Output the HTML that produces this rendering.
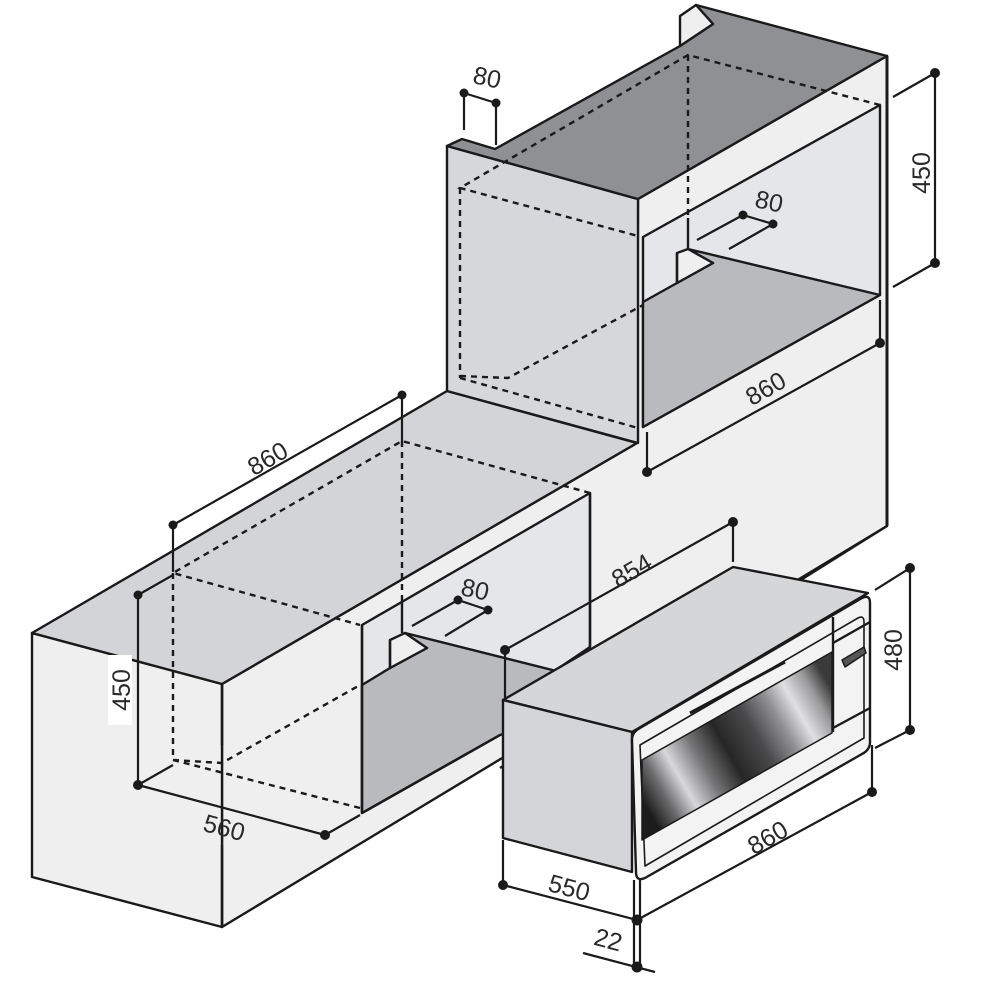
<!DOCTYPE html>
<html><head><meta charset="utf-8"><style>
html,body{margin:0;padding:0;background:#fff;}
svg{display:block;}
text{font-family:"Liberation Sans",sans-serif;font-size:25px;fill:#2a2a2a;}
</style></head><body>
<svg width="1000" height="1000" viewBox="0 0 1000 1000" xmlns="http://www.w3.org/2000/svg">
<defs>
<linearGradient id="glass" gradientUnits="userSpaceOnUse" x1="642" y1="800" x2="832" y2="690">
<stop offset="0" stop-color="#1c1c1c"/>
<stop offset="0.1" stop-color="#6a6a6c"/>
<stop offset="0.2" stop-color="#d8d8da"/>
<stop offset="0.32" stop-color="#777779"/>
<stop offset="0.45" stop-color="#262626"/>
<stop offset="0.6" stop-color="#4a4a4c"/>
<stop offset="0.72" stop-color="#8e8e90"/>
<stop offset="0.82" stop-color="#e0e0e2"/>
<stop offset="0.92" stop-color="#9a9a9c"/>
<stop offset="1" stop-color="#3a3a3a"/>
</linearGradient>
<linearGradient id="glassv" gradientUnits="userSpaceOnUse" x1="0" y1="0" x2="0" y2="1">
</linearGradient>
</defs>
<g stroke="#1a1a1a" stroke-width="2.4" stroke-linejoin="round" fill="none">
<!-- front plane -->
<polygon points="222,684 637,443 638,199 887,56 887,526 222,927" fill="#efefef"/>
<!-- base left end -->
<polygon points="32,633 222,684 222,927 32,877" fill="#efefef"/>
<!-- base top -->
<polygon points="32,633 447,391 637,443 222,684" fill="#d3d4d7"/>
<!-- tall column left face -->
<polygon points="447,146 638,199 638,443 447,391" fill="#d6d7da"/>
<!-- tall top -->
<polygon points="447,146 462,139 495,149 680,46 713,24 696,5 887,56 638,199" fill="#8f9093"/>
<polygon points="680,16 696,5 713,24 680,46" fill="#efefef"/>
<!-- upper opening -->
<polygon points="643,237 880,105 880,295 643,427" fill="#e5e6e9"/>
<polygon points="643,302 677,283 713,263 688,249 880,295 643,427" fill="#b9babd"/>
<polygon points="677,253 688,249 713,263 677,283" fill="#efefef"/>
<line x1="677" y1="253" x2="677" y2="283"/>
<line x1="688" y1="218" x2="688" y2="249"/>
<!-- base niche -->
<polygon points="362,625 590,493 590,647 553,672 500,700 500,735 362,813" fill="#e5e6e9"/>
<polygon points="362,685 390,668 427,648 392,640 405,633 600,682 600,700 500,735 362,813" fill="#b9babd"/>
<polygon points="390,640 405,633 427,648 390,668" fill="#efefef"/>
<line x1="390" y1="640" x2="390" y2="668"/>
<line x1="402" y1="600" x2="402" y2="633"/>
<line x1="362" y1="625" x2="362" y2="813"/>
<line x1="362" y1="813" x2="500" y2="735"/>
<line x1="590" y1="493" x2="590" y2="647"/>
<line x1="222" y1="684" x2="222" y2="745"/>
<line x1="222" y1="845" x2="222" y2="927"/>
<!-- front bottom line right part -->
<line x1="500" y1="768" x2="887" y2="526"/>
<line x1="887" y1="56" x2="887" y2="526" stroke-width="3"/>
</g>
<!-- dashed hidden lines -->
<g stroke="#1a1a1a" stroke-width="2.4" stroke-dasharray="6,5" fill="none">
<polyline points="880,105 688,55 460,188 638,236"/>
<line x1="688" y1="55" x2="688" y2="218"/>
<line x1="460" y1="188" x2="460" y2="378"/>
<line x1="460" y1="378" x2="638" y2="428"/>
<polyline points="460,376 508,378 643,305"/>
<polyline points="590,493 402,441 173,573 360,625"/>
<line x1="402" y1="441" x2="402" y2="600"/>
<line x1="173" y1="573" x2="173" y2="760"/>
<line x1="173" y1="760" x2="360" y2="808"/>
<polyline points="173,760 222,763 360,685"/>
</g>
<!-- oven -->
<g stroke="#1a1a1a" stroke-width="2.4" stroke-linejoin="round">
<polygon points="503,700 733,567 868,593 632,732" fill="#d5d6d8"/>
<polygon points="503,700 632,732 632,872 503,838" fill="#d4d5d8"/>
<path d="M632,740 Q632,732 640,728 L862,598 Q870,594 870,603 L870,742 Q870,750 862,754 L645,878 Q636,882 636,872 Z" fill="#f3f3f3"/>
<path d="M640,745 L858,618 Q864,615 864,622 L864,738 L645,866 Z" fill="none" stroke-width="1.6"/>
<polygon points="642,760 832,652 832,733 642,840" fill="url(#glass)" stroke-width="1.5"/>
<line x1="833" y1="617" x2="833" y2="732"/>
<line x1="833" y1="643" x2="870" y2="622"/>
<line x1="833" y1="728" x2="870" y2="708"/>
<line x1="690" y1="713" x2="785" y2="662" stroke-width="3"/>
<polygon points="842,660 864,647 866,653 845,667" fill="#555" stroke-width="1.5"/>
</g>
<!-- dimension lines -->
<g stroke="#1a1a1a" stroke-width="2.2" fill="none">
<line x1="464" y1="130" x2="464" y2="93"/><line x1="496" y1="145" x2="496" y2="103"/><line x1="464" y1="93" x2="496" y2="103"/>
<line x1="893" y1="97" x2="935" y2="73"/><line x1="893" y1="287" x2="935" y2="263"/><line x1="935" y1="73" x2="935" y2="263"/>
<line x1="697" y1="240" x2="743" y2="215"/><line x1="729" y1="249" x2="773" y2="224"/><line x1="743" y1="215" x2="773" y2="224"/>
<line x1="880" y1="300" x2="880" y2="343"/><line x1="647" y1="432" x2="647" y2="472"/><line x1="880" y1="343" x2="647" y2="472"/>
<line x1="173" y1="525" x2="173" y2="572"/><line x1="402" y1="395" x2="402" y2="441"/><line x1="173" y1="525" x2="402" y2="395"/>
<line x1="138" y1="595" x2="173" y2="575"/><line x1="138" y1="595" x2="138" y2="785"/><line x1="138" y1="785" x2="173" y2="765"/>
<line x1="138" y1="785" x2="325" y2="835"/><line x1="325" y1="835" x2="360" y2="815"/>
<line x1="412" y1="626" x2="458" y2="600"/><line x1="445" y1="636" x2="488" y2="610"/><line x1="458" y1="600" x2="488" y2="610"/>
<line x1="505" y1="650" x2="505" y2="700"/><line x1="505" y1="650" x2="733" y2="522"/><line x1="733" y1="522" x2="733" y2="562"/>
<line x1="875" y1="590" x2="910" y2="568"/><line x1="910" y1="568" x2="910" y2="730"/><line x1="875" y1="748" x2="910" y2="730"/>
<line x1="872" y1="745" x2="872" y2="792"/><line x1="872" y1="792" x2="637" y2="920"/>
<line x1="503" y1="840" x2="503" y2="885"/><line x1="503" y1="885" x2="637" y2="920"/>
<line x1="634" y1="880" x2="634" y2="968"/><line x1="640" y1="880" x2="640" y2="968"/>
<line x1="583" y1="953" x2="655" y2="972"/>
</g>
<g fill="#1a1a1a">
<circle cx="464" cy="93" r="4.5"/><circle cx="496" cy="103" r="4.5"/>
<circle cx="935" cy="73" r="5"/><circle cx="935" cy="263" r="5"/>
<circle cx="743" cy="215" r="4.5"/><circle cx="773" cy="224" r="4.5"/>
<circle cx="880" cy="343" r="5"/><circle cx="647" cy="472" r="5"/>
<circle cx="173" cy="525" r="4.5"/><circle cx="402" cy="395" r="4.5"/>
<circle cx="138" cy="595" r="4.5"/><circle cx="138" cy="785" r="5"/><circle cx="325" cy="835" r="5"/>
<circle cx="458" cy="600" r="4.5"/><circle cx="488" cy="610" r="4.5"/>
<circle cx="505" cy="650" r="5"/><circle cx="733" cy="522" r="5"/>
<circle cx="910" cy="568" r="5"/><circle cx="910" cy="730" r="5"/>
<circle cx="872" cy="792" r="5"/><circle cx="503" cy="885" r="5"/>
<circle cx="637" cy="920" r="5.5"/><circle cx="637" cy="967" r="5.5"/>
</g>
<!-- labels -->
<text x="487" y="86" text-anchor="middle" transform="rotate(12 487 78)">80</text>
<text x="0" y="0" text-anchor="middle" transform="translate(930,173) rotate(-90)">450</text>
<text x="769" y="210" text-anchor="middle" transform="rotate(12 769 202)">80</text>
<text x="0" y="0" text-anchor="middle" transform="translate(770,396) rotate(-30)">860</text>
<text x="0" y="0" text-anchor="middle" transform="translate(272,466) rotate(-30)">860</text>
<rect x="108" y="655" width="24" height="70" fill="#fff"/>
<text x="0" y="0" text-anchor="middle" transform="translate(130,690) rotate(-90)">450</text>
<text x="0" y="0" text-anchor="middle" transform="translate(222,836) rotate(15)">560</text>
<text x="475" y="598" text-anchor="middle" transform="rotate(12 475 590)">80</text>
<text x="0" y="0" text-anchor="middle" transform="translate(636,578) rotate(-30)">854</text>
<text x="0" y="0" text-anchor="middle" transform="translate(902,650) rotate(-90)">480</text>
<text x="0" y="0" text-anchor="middle" transform="translate(772,845) rotate(-30)">860</text>
<text x="0" y="0" text-anchor="middle" transform="translate(567,896) rotate(15)">550</text>
<text x="0" y="0" text-anchor="middle" transform="translate(606,948) rotate(15)">22</text>
</svg>
</body></html>
